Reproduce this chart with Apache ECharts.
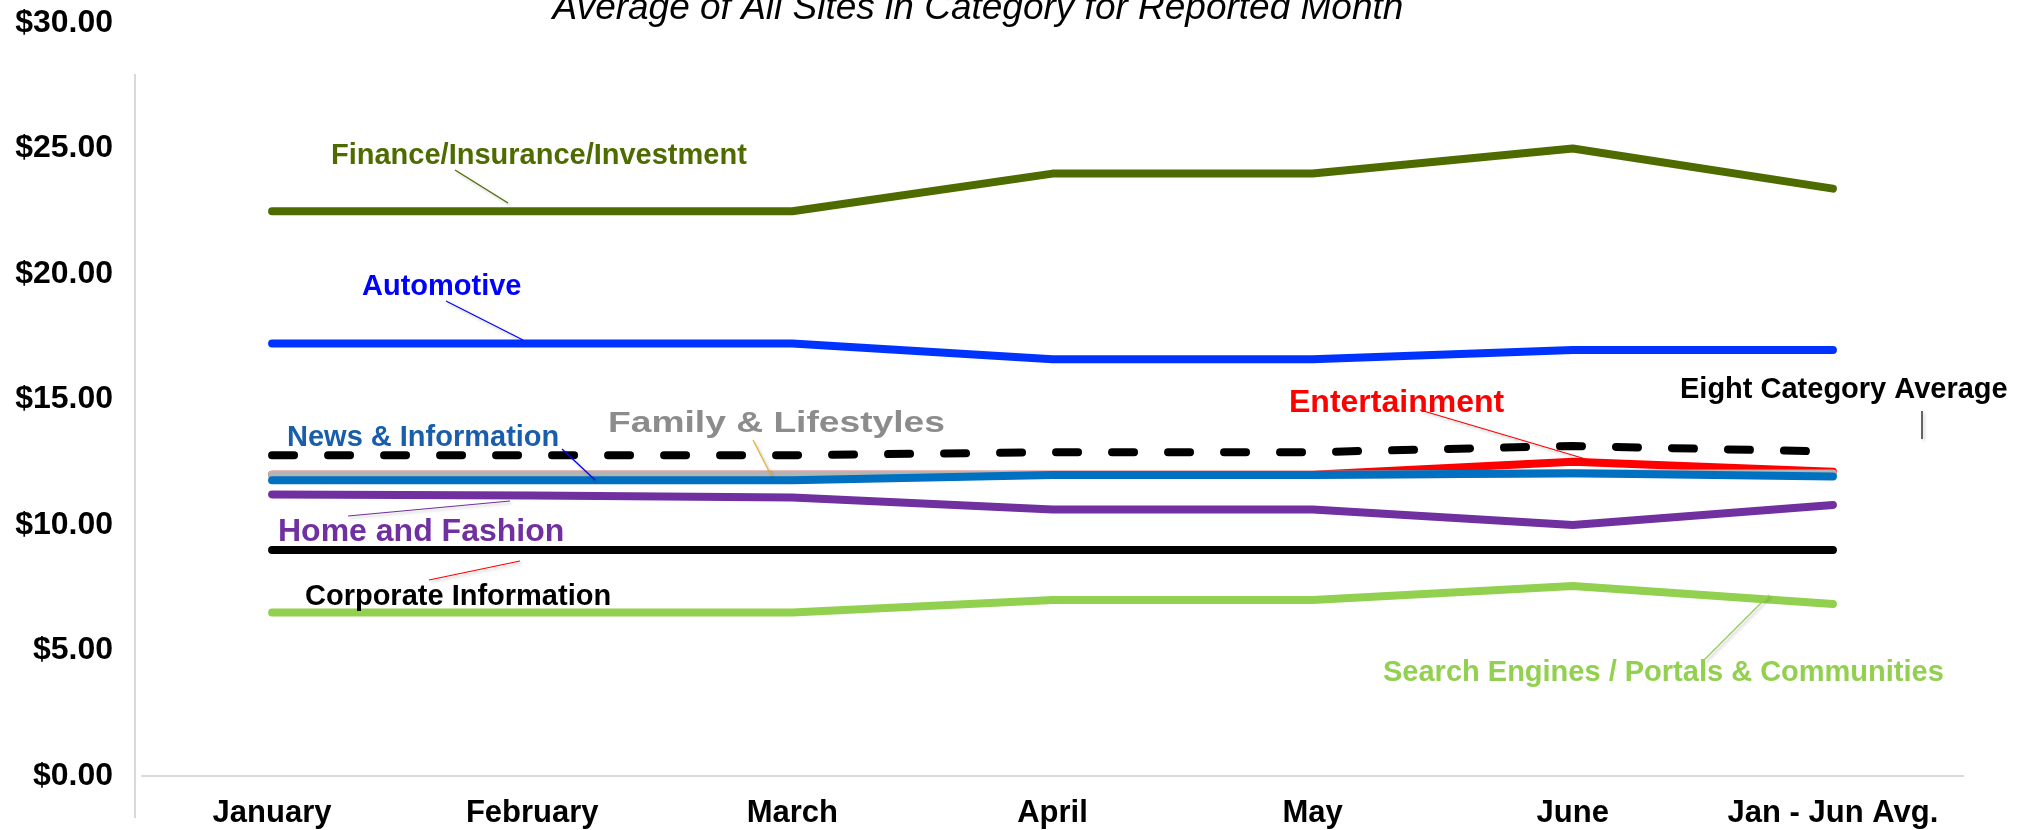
<!DOCTYPE html>
<html>
<head>
<meta charset="utf-8">
<title>Average of All Sites in Category</title>
<script src="https://cdn.jsdelivr.net/npm/echarts/dist/echarts.min.js"></script>
<style>
html, body { margin: 0; padding: 0; background: #fff; }
#chart { width: 2025px; height: 830px; }
</style>
</head>
<body>
<div id="chart"></div>
<script>
// categories
var months = ['January', 'February', 'March', 'April', 'May', 'June', 'Jan - Jun Avg.'];

// series values ($)
var finance       = [22.5, 22.5, 22.5, 24.0, 24.0, 25.0, 23.4];
var automotive    = [17.23, 17.23, 17.23, 16.6, 16.6, 16.97, 16.97];
var entertainment = [12.0, 12.0, 12.0, 12.0, 12.0, 12.52, 12.12];
var family        = [12.0, 12.0, 12.0, 12.0, 12.0, 12.05, 12.05];
var news          = [11.78, 11.78, 11.78, 11.99, 11.99, 12.06, 11.93];
var eightAvg      = [12.78, 12.78, 12.78, 12.9, 12.9, 13.15, 12.92];
var homeFashion   = [11.22, 11.18, 11.1, 10.62, 10.62, 10.0, 10.8];
var corporate     = [9.0, 9.0, 9.0, 9.0, 9.0, 9.0, 9.0];
var search        = [6.51, 6.51, 6.51, 7.01, 7.01, 7.57, 6.85];

// y axis ticks
var yMin = 0, yMax = 30, yStep = 5;

var chart = echarts.init(document.getElementById('chart'));

function lineSeries(name, data, color, dashed) {
    return {
        name: name,
        type: 'line',
        data: data,
        symbol: 'none',
        silent: true,
        lineStyle: {
            color: color,
            width: 8,
            cap: 'round',
            join: 'round',
            type: dashed ? [22, 34] : 'solid'
        }
    };
}

// text callout + thin leader line
function callout(text, color, size, x, y, lx1, ly1, lx2, ly2, lineColor, sx) {
    return [
        {
            type: 'line',
            silent: true,
            shape: { x1: lx1, y1: ly1, x2: lx2, y2: ly2 },
            style: { stroke: lineColor, lineWidth: 1.2, shadowBlur: 3, shadowColor: 'rgba(0,0,0,0.25)', shadowOffsetX: 2, shadowOffsetY: 2 },
            z: 100
        },
        {
            type: 'text',
            silent: true,
            x: x, y: y,
            scaleX: sx || 1,
            style: {
                text: text,
                fill: color,
                font: 'bold ' + size + 'px "Liberation Sans", Arial, sans-serif',
                align: 'left',
                verticalAlign: 'middle'
            },
            z: 100
        }
    ];
}

var graphics = [
    // title
    {
        type: 'text', silent: true, x: 978, y: 9,
        style: {
            text: 'Average of All Sites in Category for Reported Month',
            fill: '#000',
            font: 'italic 37px "Liberation Sans", Arial, sans-serif',
            align: 'center', verticalAlign: 'middle'
        }
    },
    // vertical axis line
    {
        type: 'line', silent: true,
        shape: { x1: 135, y1: 74, x2: 135, y2: 818 },
        style: { stroke: '#D9D9D9', lineWidth: 2 }
    }
];
graphics = graphics
    .concat(callout('Finance/Insurance/Investment', '#4E6B00', 29, 331, 156, 455, 170, 508, 203, '#4E6B00'))
    .concat(callout('Automotive', '#0000FF', 29, 362, 287, 446, 301, 523, 340, '#0000FF'))
    .concat(callout('News & Information', '#1A5EAB', 29, 287, 438, 562, 449, 595, 480, '#0000FF'))
    .concat(callout('Family & Lifestyles', '#8C8C8C', 30, 608, 424, 753, 440, 771, 475, '#E0B030', 1.24))
    .concat(callout('Home and Fashion', '#7030A0', 32, 278, 532, 348, 516, 510, 501, '#7030A0'))
    .concat(callout('Corporate Information', '#000000', 29, 305, 597, 429, 580, 520, 561, '#FF0000'))
    .concat(callout('Entertainment', '#FF0000', 32, 1289, 403, 1420, 410, 1589, 460, '#FF0000'))
    .concat(callout('Eight Category Average', '#000000', 29, 1680, 390, 1922, 411, 1922, 439, '#000000'))
    .concat(callout('Search Engines / Portals & Communities', '#92D050', 29, 1383, 673, 1704, 660, 1769, 595, '#92D050'));

var option = {
    animation: false,
    backgroundColor: '#fff',
    grid: { left: 142, right: 62, top: 23, bottom: 54 },
    xAxis: {
        type: 'category',
        data: months,
        boundaryGap: true,
        axisTick: { show: false },
        axisLine: { lineStyle: { color: '#D9D9D9', width: 2 } },
        axisLabel: {
            interval: 0,
            color: '#000',
            fontWeight: 'bold',
            fontSize: 31,
            fontFamily: '"Liberation Sans", Arial, sans-serif',
            margin: 22
        }
    },
    yAxis: {
        type: 'value',
        min: yMin, max: yMax, interval: yStep,
        axisLine: { show: false },
        axisTick: { show: false },
        splitLine: { show: false },
        axisLabel: {
            color: '#000',
            fontWeight: 'bold',
            fontSize: 32,
            fontFamily: '"Liberation Sans", Arial, sans-serif',
            margin: 29,
            formatter: function (v) { return '$' + v.toFixed(2); }
        }
    },
    series: [
        lineSeries('Corporate Information', corporate, '#000000'),
        lineSeries('Search Engines / Portals & Communities', search, '#92D050'),
        lineSeries('Home and Fashion', homeFashion, '#7030A0'),
        lineSeries('Finance/Insurance/Investment', finance, '#4E6B00'),
        lineSeries('Automotive', automotive, '#0033FF'),
        lineSeries('Entertainment', entertainment, '#FF0000'),
        lineSeries('Family & Lifestyles', family, '#B4B4B4'),
        lineSeries('News & Information', news, '#0070C0'),
        lineSeries('Eight Category Average', eightAvg, '#000000', true)
    ],
    graphic: graphics
};

chart.setOption(option);
</script>
</body>
</html>
